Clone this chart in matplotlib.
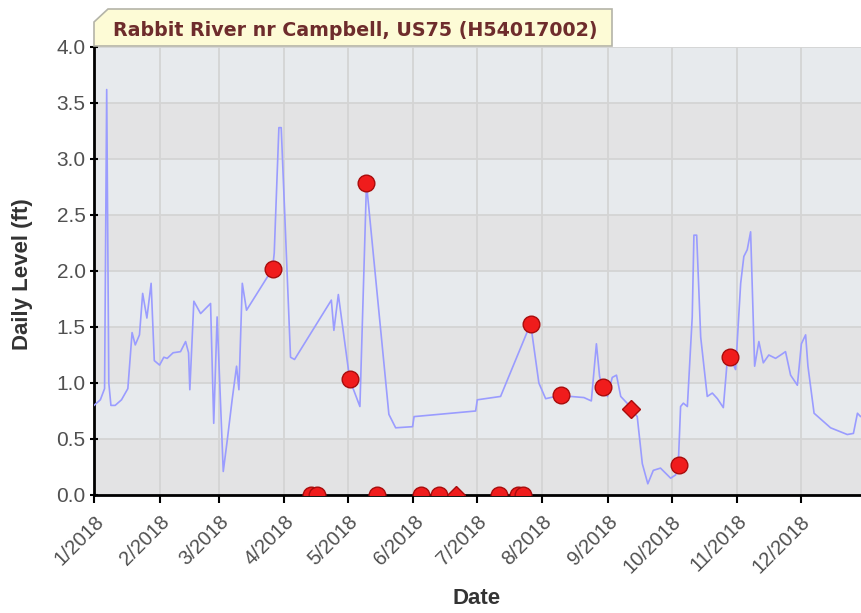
import matplotlib
matplotlib.use("Agg")
import matplotlib.pyplot as plt
from matplotlib.patches import Polygon
import numpy as np
import pandas as pd

# daily level trace, days since 1 Jan 2018 and level in ft
level_days = [0, 3, 5, 6, 7, 8, 10, 13, 16, 18, 19.5, 21.5, 23, 25, 27, 28.5, 31, 33, 34.6,
              37.4, 40.9, 43.3, 44.7, 45.3, 47.2, 50.4, 55.1, 56.6, 58.2, 61.1, 63.0, 65.3,
              67.4, 68.5, 70.1, 72.1, 84.4, 85.2, 87.4, 88.5, 90.1, 92.9, 94.8, 112.2, 113.4,
              115.5, 120.9, 125.7, 128.8, 139.4, 142.6, 150.6, 151.3, 180.4, 181.2, 192.2,
              206.4, 210.3, 213.5, 220.6, 225.3, 231.6, 235.1, 237.5, 239, 240.3, 242.7, 245,
              247, 249, 252, 253.7, 256.8, 259.2, 261.8, 264.4, 267.8, 272.6, 275, 276.2,
              277.3, 278.6, 280.5, 282.8, 283.6, 284.9, 286.8, 289.9, 292.3, 294.7, 297.5,
              299.4, 300.6, 303.3, 305.7, 307.2, 308.8, 310.4, 312.3, 314.3, 316.4, 319,
              322.2, 324.6, 326.9, 329.3, 332.5, 334.4, 336.4, 337.5, 340.4, 348.2, 356.1,
              359, 360.9, 362.4, 363.3]
level_ft = [0.80, 0.85, 0.95, 3.62, 1.00, 0.80, 0.80, 0.85, 0.95, 1.45, 1.34, 1.43, 1.80, 1.58,
            1.89, 1.20, 1.16, 1.23, 1.22, 1.27, 1.28, 1.37, 1.27, 0.94, 1.73, 1.62, 1.71, 0.64,
            1.59, 0.21, 0.49, 0.85, 1.15, 0.94, 1.89, 1.65, 2.02, 2.16, 3.28, 3.28, 2.54, 1.23,
            1.21, 1.74, 1.47, 1.79, 1.03, 0.79, 2.78, 0.72, 0.60, 0.61, 0.70, 0.75, 0.85, 0.88,
            1.53, 1.00, 0.86, 0.89, 0.88, 0.87, 0.84, 1.35, 1.06, 0.96, 0.88, 1.05, 1.07, 0.88,
            0.82, 0.77, 0.70, 0.28, 0.10, 0.22, 0.24, 0.15, 0.18, 0.27, 0.79, 0.82, 0.79, 1.59,
            2.32, 2.32, 1.41, 0.88, 0.91, 0.86, 0.78, 1.21, 1.23, 1.12, 1.89, 2.13, 2.19, 2.35,
            1.15, 1.37, 1.18, 1.25, 1.22, 1.25, 1.28, 1.07, 0.98, 1.35, 1.43, 1.15, 0.73, 0.60,
            0.54, 0.55, 0.73, 0.70, 0.71]

# field readings (circles) and diamond readings
circle_days = [84.4, 120.8, 128.8, 206.4, 220.6, 240.4, 276.4, 300.5,
               102.4, 105.2, 133.6, 154.4, 162.9, 191.3, 200.2, 202.6]
circle_ft = [2.02, 1.04, 2.79, 1.53, 0.89, 0.96, 0.27, 1.23,
             0, 0, 0, 0, 0, 0, 0, 0]
diamond_days = [253.7, 170.9]
diamond_ft = [0.77, 0.0]

month_labels = ['1/2018', '2/2018', '3/2018', '4/2018', '5/2018', '6/2018',
                '7/2018', '8/2018', '9/2018', '10/2018', '11/2018', '12/2018']
y_ticks = [0.0, 0.5, 1.0, 1.5, 2.0, 2.5, 3.0, 3.5, 4.0]
title = "Rabbit River nr Campbell, US75 (H54017002)"

start = pd.Timestamp('2018-01-01')
to_date = lambda d: start + pd.to_timedelta(np.array(d), unit='D')

W, H = 862, 613
fig = plt.figure(figsize=(W / 100, H / 100), dpi=100)
fig.patch.set_facecolor('white')
ax = fig.add_axes([94 / W, (H - 495) / H, 770 / W, 448 / H])

# alternating bands
for i, y0 in enumerate(y_ticks[:-1]):
    ax.axhspan(y0, y0 + 0.5, color='#e3e3e4' if i % 2 == 0 else '#e7eaed', zorder=0, lw=0)

ax.set_xlim(start, start + pd.Timedelta(days=364))
ax.set_ylim(0, 4)
ax.grid(True, color='#d4d4d4', linewidth=1.3, zorder=1)
ax.set_axisbelow(True)

ax.plot(to_date(level_days), level_ft, color='#9a9cff', linewidth=1.2, zorder=3)
ax.plot(to_date(circle_days), circle_ft, 'o', ms=12, mfc='#f01c1c', mec='#a80c0c',
        mew=1.0, zorder=4)
ax.plot(to_date(diamond_days), diamond_ft, 'D', ms=9.5, mfc='#f01c1c', mec='#a80c0c',
        mew=1.0, zorder=4)

ax.set_xticks(pd.date_range(start, periods=12, freq='MS'))
ax.set_xticklabels(month_labels, rotation=45, ha='right', rotation_mode='anchor',
                   fontsize=14.5, color='#505050', family='Liberation Sans')
ax.set_yticks(y_ticks)
ax.set_yticklabels([f'{v:.1f}' for v in y_ticks], fontsize=15, color='#505050',
                   family='Liberation Sans')
ax.tick_params(axis='x', length=6, width=1.5, color='black', pad=6)
ax.tick_params(axis='y', length=6, width=1.5, color='black', pad=3, direction='inout')

for s in ['top', 'right']:
    ax.spines[s].set_visible(False)
for s in ['left', 'bottom']:
    ax.spines[s].set_linewidth(2)
    ax.spines[s].set_color('black')

fig.text(23 / W, 1 - 274 / H, 'Daily Level (ft)', rotation=90, ha='center', va='center',
         fontsize=16, fontweight='bold', color='#333333', family='Liberation Sans')
fig.text(477 / W, 1 - 599 / H, 'Date', ha='center', va='center',
         fontsize=16, fontweight='bold', color='#333333', family='Liberation Sans')

# title tab with cut corner
px = [94, 94, 108, 612, 612]
py = [46, 22, 9, 9, 46]
tab = Polygon(np.column_stack([np.array(px) / W, 1 - np.array(py) / H]), closed=True,
              facecolor='#fdfbd6', edgecolor='#b4b4a8', linewidth=1.2,
              transform=fig.transFigure, zorder=5)
fig.patches.append(tab)
fig.text(355 / W, 1 - 30 / H, title, ha='center', va='center', fontsize=13.7,
         fontweight='bold', color='#6e2c2c', family='DejaVu Sans', zorder=6)

fig.savefig('out.png', dpi=100)
